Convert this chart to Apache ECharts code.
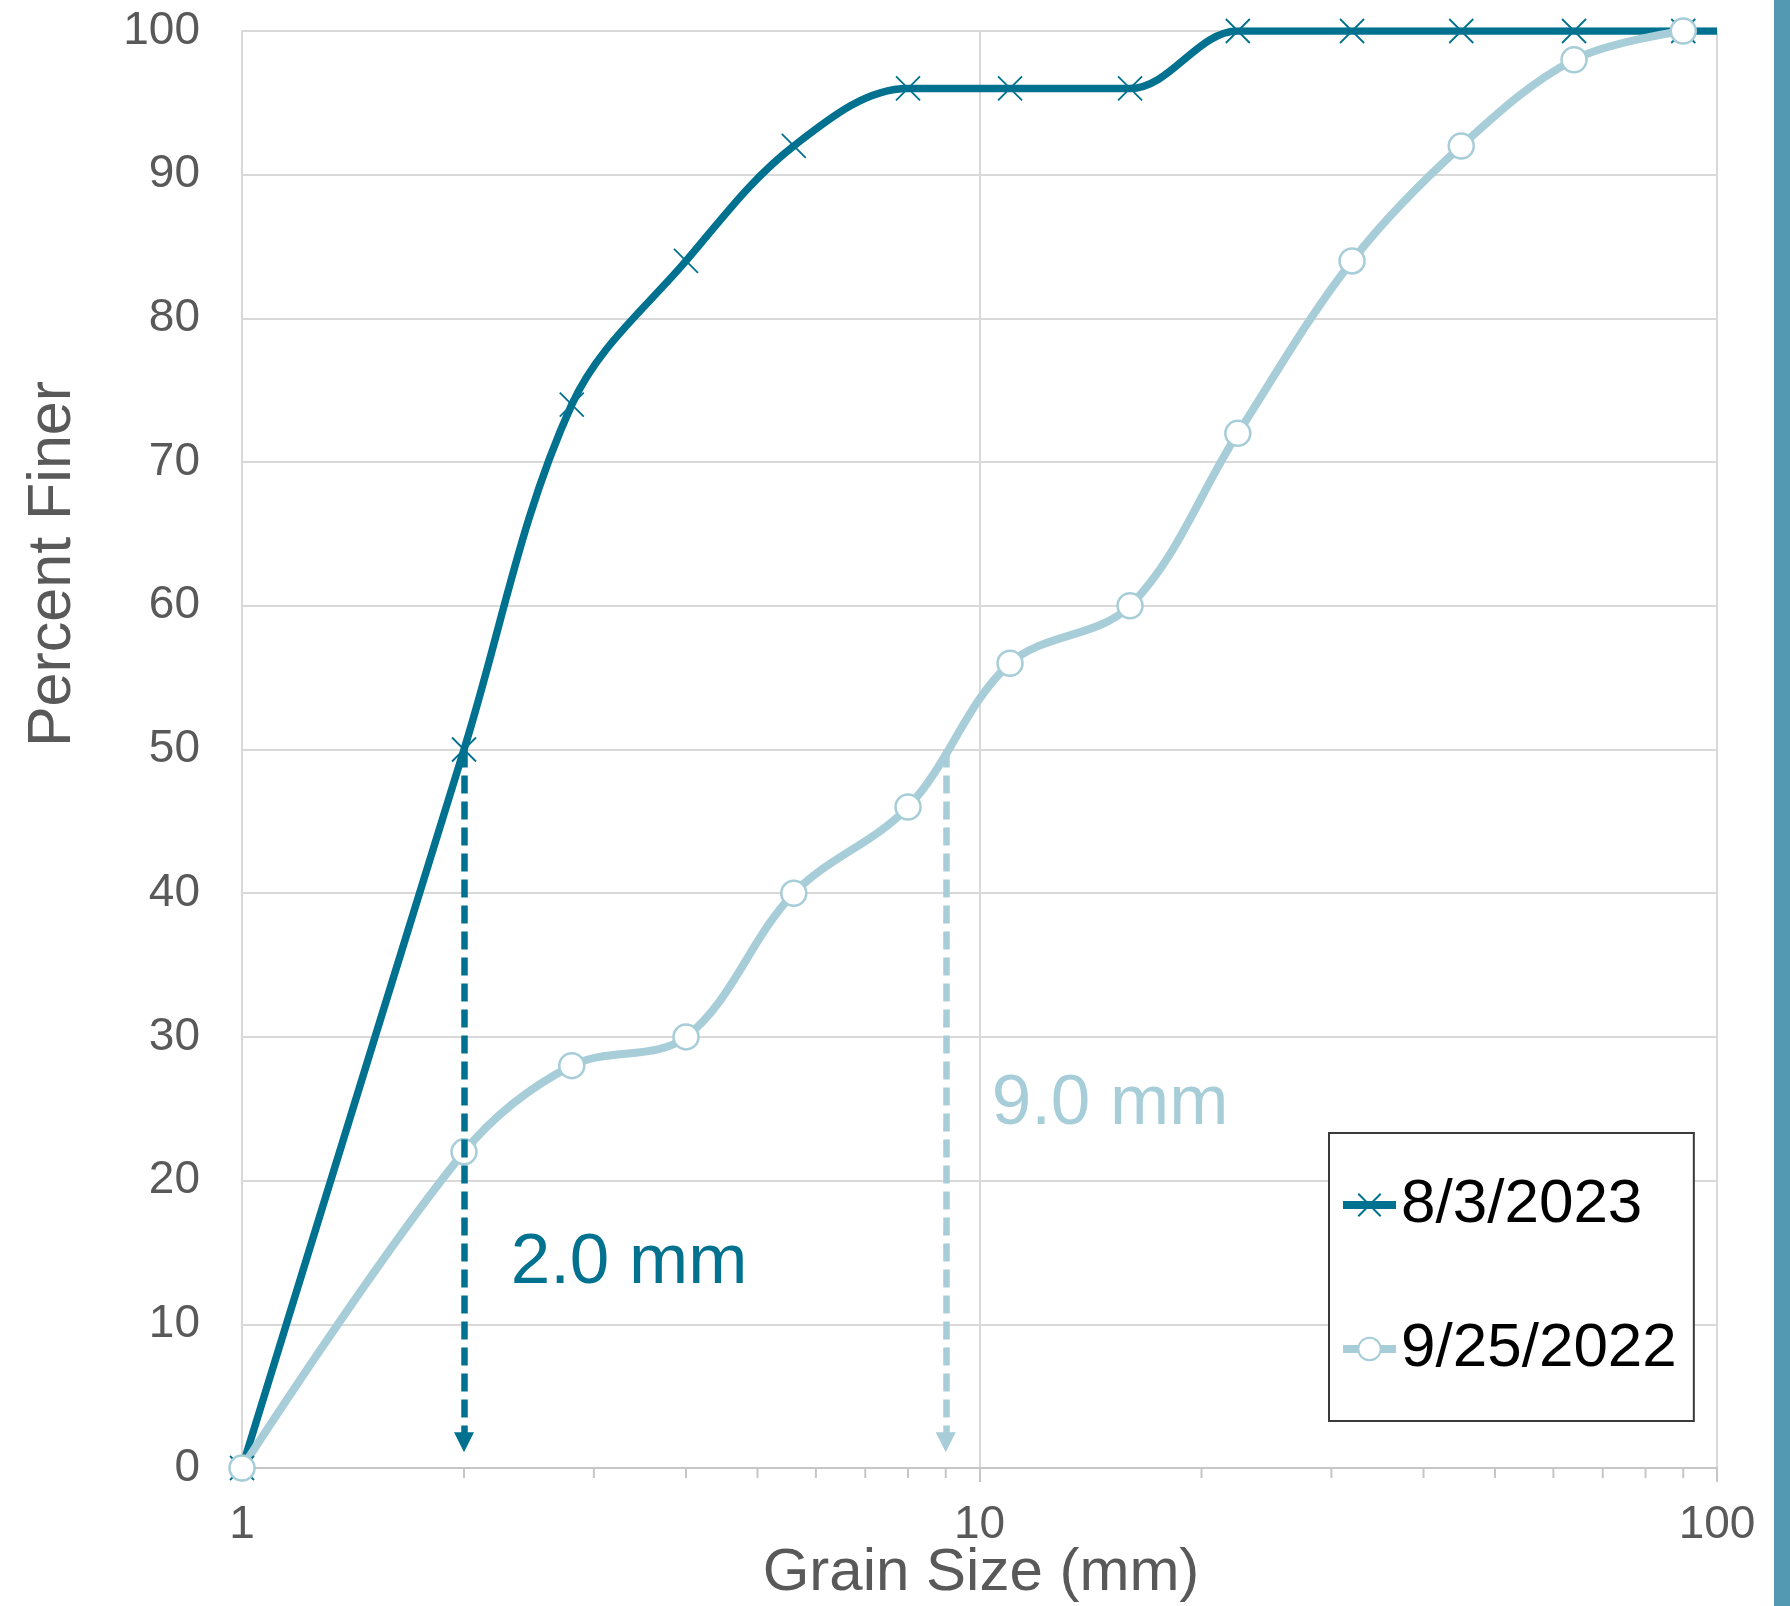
<!DOCTYPE html>
<html>
<head>
<meta charset="utf-8">
<script src="https://cdn.jsdelivr.net/npm/echarts@6/dist/echarts.min.js"></script>
<style>
html,body{margin:0;padding:0;background:#fff;}
#chart{width:1790px;height:1606px;}
</style>
</head>
<body>
<div id="chart"></div>
<script>
// ---- data ----
const sizes2023 = [1, 2, 2.8, 4, 5.6, 8, 11, 16, 22.4, 32, 45, 64, 90, 100];
const pct2023   = [0, 50, 74, 84, 92, 96, 96, 96, 100, 100, 100, 100, 100, 100];
const sizes2022 = [1, 2, 2.8, 4, 5.6, 8, 11, 16, 22.4, 32, 45, 64, 90];
const pct2022   = [0, 22, 28, 30, 40, 46, 56, 60, 72, 84, 92, 98, 100];
const seriesNames = ['8/3/2023', '9/25/2022'];
const d50_2023 = 2.0;
const d50_2022 = 9.0;
const minorTickValues = [2, 3, 4, 5, 6, 7, 8, 9, 20, 30, 40, 50, 60, 70, 80, 90];
const xAxisTitle = 'Grain Size (mm)';
const yAxisTitle = 'Percent Finer';

const DARK = '#00718F';
const LIGHT = '#A6CDD8';
const GRID = '#D9D9D9';
const TXT = '#595959';
const FONT = '"Liberation Sans", Arial, sans-serif';

const crossPath = 'path://M0,0L10,10M10,0L0,10';

const d2023 = sizes2023.map((s, i) => {
  const item = { value: [s, pct2023[i]] };
  if (i === sizes2023.length - 1) item.symbol = 'none';
  return item;
});
const d2022 = sizes2022.map((s, i) => [s, pct2022[i]]);

const chart = echarts.init(document.getElementById('chart'), null, { renderer: 'canvas' });
chart.setOption({
  animation: false,
  backgroundColor: '#fff',
  grid: { left: 242, right: 73, top: 31, bottom: 138, containLabel: false },
  xAxis: {
    type: 'log', logBase: 10, min: 1, max: 100,
    axisLine: { show: true, lineStyle: { color: '#C6C6C6', width: 2 } },
    axisTick: { show: true, length: 14, lineStyle: { color: '#C6C6C6', width: 2 } },
    axisLabel: { color: TXT, fontSize: 46, fontFamily: FONT, margin: 34 },
    splitLine: { show: true, lineStyle: { color: GRID, width: 2 } },
    minorTick: { show: false }
  },
  yAxis: {
    type: 'value', min: 0, max: 100, interval: 10,
    axisLine: { show: true, lineStyle: { color: GRID, width: 2 } },
    axisTick: { show: false },
    axisLabel: { color: TXT, fontSize: 46, fontFamily: FONT, margin: 42 },
    splitLine: { show: true, lineStyle: { color: GRID, width: 2 } }
  },
  legend: {
    orient: 'vertical',
    left: 1329, top: 1133,
    data: seriesNames,
    backgroundColor: '#fff',
    borderColor: '#3A3A3A', borderWidth: 2,
    padding: [40, 17, 40, 10],
    itemGap: 80,
    itemWidth: 53, itemHeight: 28,
    itemTextGap: 2,
    lineStyle: { width: 8 },
    textStyle: { color: '#000', fontSize: 62, fontFamily: FONT, lineHeight: 64 }
  },
  graphic: [
    { type: 'rect', left: 1774, top: 0, shape: { width: 16, height: 1606 }, style: { fill: '#5399B1' } },
    { type: 'text', x: 981, y: 1573, style: { text: xAxisTitle, fill: TXT, font: '60px ' + FONT, textAlign: 'center', textVerticalAlign: 'middle' } },
    { type: 'text', x: 53, y: 564, rotation: Math.PI / 2, style: { text: yAxisTitle, fill: TXT, font: '61px ' + FONT, textAlign: 'center', textVerticalAlign: 'middle' } },
    { type: 'text', x: 629, y: 1263, style: { text: d50_2023.toFixed(1) + ' mm', fill: DARK, font: '71px ' + FONT, textAlign: 'center', textVerticalAlign: 'middle' } },
    { type: 'text', x: 1110, y: 1104, style: { text: d50_2022.toFixed(1) + ' mm', fill: LIGHT, font: '71px ' + FONT, textAlign: 'center', textVerticalAlign: 'middle' } }
  ],
  series: [
    {
      name: seriesNames[0], type: 'line', data: d2023, smooth: 0.35,
      symbol: crossPath, symbolSize: 24,
      lineStyle: { color: DARK, width: 7.5 },
      itemStyle: { color: DARK, borderColor: DARK, borderWidth: 1.8 },
      markLine: {
        silent: true, symbol: ['none', 'triangle'], symbolSize: [20, 20],
        label: { show: false },
        lineStyle: { color: DARK, width: 6.5, type: [18, 8] },
        data: [[{ coord: [d50_2023, 50] }, { coord: [d50_2023, 1.8] }]]
      }
    },
    {
      name: seriesNames[1], type: 'line', data: d2022, smooth: 0.35,
      symbol: 'circle', symbolSize: 25,
      lineStyle: { color: LIGHT, width: 8 },
      itemStyle: { color: '#fff', borderColor: LIGHT, borderWidth: 2.5 },
      markLine: {
        silent: true, symbol: ['none', 'triangle'], symbolSize: [20, 20],
        label: { show: false },
        lineStyle: { color: LIGHT, width: 6.5, type: [18, 8] },
        data: [[{ coord: [d50_2022, 50] }, { coord: [d50_2022, 1.8] }]]
      }
    },
    {
      name: 'minorTicks', type: 'custom', silent: true, clip: false,
      data: minorTickValues.map(v => [v, 0]),
      encode: { x: 0, y: 1 },
      renderItem: function (params, api) {
        const p = api.coord([api.value(0), api.value(1)]);
        return { type: 'line', shape: { x1: p[0], y1: p[1], x2: p[0], y2: p[1] + 10 },
                 style: { stroke: '#C6C6C6', lineWidth: 2 } };
      }
    }
  ]
});
</script>
</body>
</html>
